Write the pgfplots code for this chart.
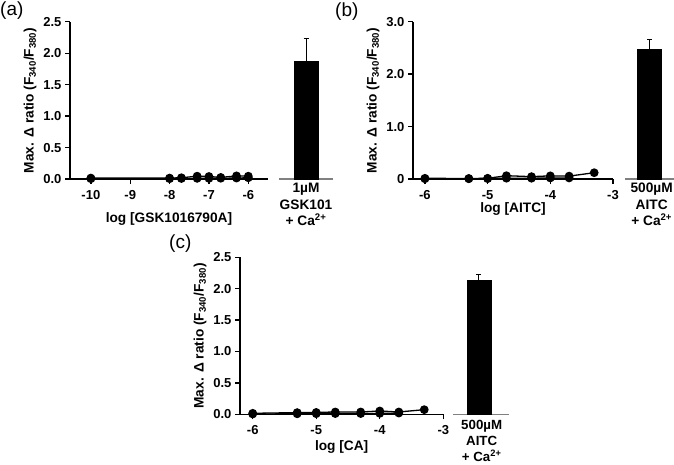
\documentclass[border=0pt]{standalone}
\usepackage{pgfplots}
\pgfplotsset{compat=1.18}
\usepackage{fontspec}
\setmainfont{Liberation Sans}
\pgfplotsset{
 mainax/.style={scale only axis, axis x line*=bottom, axis y line*=left, ymin=0,
   tick align=outside, major tick length=5pt,
   axis line style={line width=1.3pt},
   every tick/.style={line width=1.3pt, black},
   tick label style={font=\fontsize{13}{15}\selectfont\bfseries},
   xticklabel style={yshift=-3pt},
   label style={font=\fontsize{13.7}{16}\selectfont\bfseries},
   /pgf/number format/assume math mode=true, clip=false,
   ylabel={Max. Δ ratio (F\textsubscript{340}/F\textsubscript{380})}},
 barax/.style={scale only axis, axis x line*=bottom, hide y axis, xmin=0, xmax=1, ymin=0,
   xtick=\empty, ytick=\empty, axis line style={line width=1.3pt, gray}, clip=false},
 ser/.style={black, line width=1.3pt, mark=*, mark size=3.7pt},
 barstyle/.style={ybar, bar width=24pt, fill=black, draw=black,
   error bars/.cd, y dir=plus, y explicit,
   error bar style={line width=0.8pt, black},
   error mark options={rotate=90, line width=0.8pt, mark size=2.5pt, black}},
}
\newcommand\barlab{\fontsize{13.7}{16.5}\selectfont\bfseries}
\begin{document}
\begin{tikzpicture}[x=1pt,y=1pt]
\useasboundingbox (0,0) rectangle (674,-464);
% panel labels
\node[anchor=west, inner sep=0, font=\fontsize{19}{22}\selectfont] at (0,-11) {(a)};
\node[anchor=west, inner sep=0, font=\fontsize{19}{22}\selectfont] at (335,-12) {(b)};
\node[anchor=west, inner sep=0, font=\fontsize{19}{22}\selectfont] at (169,-244) {(c)};

% ---------- (a) ----------
\begin{axis}[mainax, at={(70pt,-179pt)}, anchor=south west, width=198pt, height=157.3pt,
  xmin=-10.53, xmax=-5.5, ymax=2.5,
  xtick={-10,-9,-8,-7,-6}, xticklabels={-10,-9,-8,-7,-6},
  ytick={0,0.5,1,1.5,2,2.5}, yticklabels={0.0,0.5,1.0,1.5,2.0,2.5},
  xlabel={log [GSK1016790A]},
  xlabel style={at={(axis description cs:0.5,0)}, anchor=base, yshift=-43pt}]
\addplot[ser] coordinates {(-10,0.005)(-8,0.005)(-7.7,0.008)(-7.3,0.01)(-7,0.01)(-6.7,0.012)(-6.3,0.015)(-6,0.02)};
\addplot[ser] coordinates {(-10,0.015)(-8,0.015)(-7.7,0.02)(-7.3,0.045)(-7,0.04)(-6.7,0.025)(-6.3,0.05)(-6,0.045)};
\end{axis}
\begin{axis}[barax, at={(279pt,-179pt)}, anchor=south west, width=54pt, height=157.3pt, ymax=2.5]
\addplot[barstyle] coordinates {(0.5,1.87) +- (0,0.37)};
\end{axis}
\node[anchor=north, inner sep=0, align=center, font=\barlab] at (306,-183) {1µM\\GSK101\\+ Ca\textsuperscript{2+}};

% ---------- (b) ----------
\begin{axis}[mainax, at={(413pt,-179pt)}, anchor=south west, width=200pt, height=157.3pt,
  xmin=-6.19, xmax=-3, ymax=3,
  xtick={-6,-5,-4,-3}, xticklabels={-6,-5,-4,-3},
  ytick={0,1,2,3}, yticklabels={0,1.0,2.0,3.0},
  xlabel={log [AITC]},
  xlabel style={at={(axis description cs:0.5,0)}, anchor=base, yshift=-33pt}]
\addplot[ser] coordinates {(-6,0.005)(-5.3,0.005)(-5,0.008)(-4.7,0.015)(-4.3,0.015)(-4,0.02)(-3.7,0.02)};
\addplot[ser] coordinates {(-6,0.013)(-5.3,0.01)(-5,0.013)(-4.7,0.063)(-4.3,0.045)(-4,0.06)(-3.7,0.055)(-3.3,0.12)};
\end{axis}
\begin{axis}[barax, at={(625pt,-179pt)}, anchor=south west, width=49pt, height=157.3pt, ymax=3]
\addplot[barstyle] coordinates {(0.5,2.47) +- (0,0.2)};
\end{axis}
\node[anchor=north, inner sep=0, align=center, font=\barlab] at (651.7,-183) {500µM\\AITC\\+ Ca\textsuperscript{2+}};

% ---------- (c) ----------
\begin{axis}[mainax, at={(240pt,-414.3pt)}, anchor=south west, width=203.3pt, height=157pt,
  xmin=-6.2, xmax=-3, ymax=2.5,
  xtick={-6,-5,-4,-3}, xticklabels={-6,-5,-4,-3},
  ytick={0,0.5,1,1.5,2,2.5}, yticklabels={0.0,0.5,1.0,1.5,2.0,2.5},
  xlabel={log [CA]},
  xlabel style={at={(axis description cs:0.5,0)}, anchor=base, yshift=-36pt}]
\addplot[ser] coordinates {(-6,0.005)(-5.3,0.008)(-5,0.01)(-4.7,0.012)(-4.3,0.012)(-4,0.015)(-3.7,0.02)};
\addplot[ser] coordinates {(-6,0.016)(-5.3,0.027)(-5,0.03)(-4.7,0.037)(-4.3,0.037)(-4,0.053)(-3.7,0.037)(-3.3,0.074)};
\end{axis}
\begin{axis}[barax, at={(453pt,-414.3pt)}, anchor=south west, width=56pt, height=157pt, ymax=2.5]
\addplot[barstyle] coordinates {(0.46,2.13) +- (0,0.1)};
\end{axis}
\node[anchor=north, inner sep=0, align=center, font=\fontsize{13.3}{16}\selectfont\bfseries] at (481.7,-420) {500µM\\AITC\\+ Ca\textsuperscript{2+}};
\end{tikzpicture}
\end{document}
